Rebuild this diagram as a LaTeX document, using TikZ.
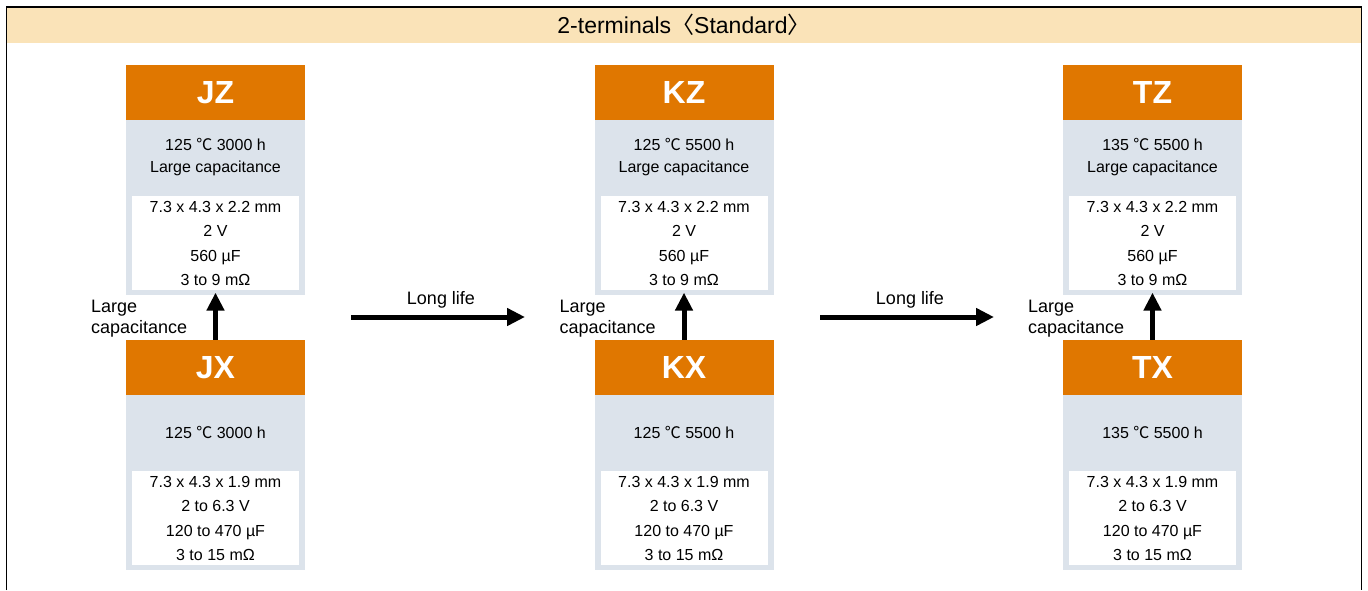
\documentclass[tikz,border=0pt]{standalone}
\usepackage{fontspec}
\setmainfont{Liberation Sans}
\newfontfamily\cjkfont{Noto Sans CJK JP}
\usetikzlibrary{positioning,arrows.meta}
\definecolor{hdrfill}{RGB}{250,227,184}
\definecolor{serorange}{RGB}{224,119,0}
\definecolor{serbody}{RGB}{220,227,235}
\newcommand{\degc}{{\cjkfont ℃}}
\tikzstyle{titlebox}=[fill=serorange,text=white,minimum width=179pt,minimum height=55pt,inner sep=0pt,font=\fontsize{32}{32}\selectfont\bfseries]
\tikzstyle{bodybox}=[fill=serbody,minimum width=179pt,minimum height=175pt,inner sep=0pt]
\tikzstyle{specbox}=[fill=white,minimum width=167pt,minimum height=94pt,inner sep=0pt,align=center,font=\fontsize{16}{24.3}\selectfont]
\tikzstyle{infotext}=[align=center,inner sep=0pt,font=\fontsize{16}{22}\selectfont]
\tikzstyle{sidelbl}=[align=left,inner sep=0pt,font=\fontsize{18}{21}\selectfont]
\tikzstyle{myarrow}=[line width=5pt,-{Triangle[width=17pt,length=18pt]}]

\begin{document}
\begin{tikzpicture}[x=1pt,y=-1pt]
		\useasboundingbox (0,0) rectangle (1368,590);

		% frame and header band
		\fill[hdrfill] (6.5,7) rectangle (1361.7,43);
		\draw[line width=1.5pt] (6.5,590) -- (6.5,7) -- (1361.7,7) -- (1361.7,590);
		\node[font=\fontsize{23}{23}\selectfont] (head) at (684,25) {2-terminals{\cjkfont 〈}Standard{\cjkfont 〉}};

		\foreach \i / \s / \temp / \life in {0/J/125/3000,1/K/125/5500,2/T/135/5500} {
			\pgfmathsetmacro\cx{215.5+468.5*\i}
			% upper series
			\node[titlebox] (\s Z) at (\cx,92.5) {\s Z};
			\node[bodybox,below=0pt of \s Z] (\s Z-body) {};
			\node[specbox,above=5pt of \s Z-body.south] (\s Z-spec) {7.3 x 4.3 x 2.2 mm\\2 V\\560 µF\\3 to 9 mΩ};
			\path (\s Z.south) -- (\s Z-spec.north) node[midway,infotext,yshift=1pt] (\s Z-info) {\temp{} \degc{} \life{} h\\Large capacitance};
			% lower series
			\node[titlebox] (\s X) at (\cx,367.5) {\s X};
			\node[bodybox,below=0pt of \s X] (\s X-body) {};
			\node[specbox,above=5pt of \s X-body.south] (\s X-spec) {7.3 x 4.3 x 1.9 mm\\2 to 6.3 V\\120 to 470 µF\\3 to 15 mΩ};
			\path (\s X.south) -- (\s X-spec.north) node[midway,infotext,yshift=1pt] (\s X-info) {\temp{} \degc{} \life{} h};

			\draw[myarrow] (\s X.north) -- ([yshift=3pt]\s Z-body.south);
			\node[sidelbl,anchor=west] (\s-lbl) at ([xshift=-35pt,yshift=21.5pt]\s X.north west) {Large\\capacitance};
		}

		% long life arrows
		\foreach \j / \x in {1/351,2/820} {
			\coordinate (life\j-a) at (\x,317);
			\coordinate (life\j-b) at ({\x+174},317);
			\draw[myarrow] (life\j-a) -- (life\j-b);
			\node[font=\fontsize{18}{18}\selectfont] (life\j-lbl) at ({\x+90},300) {Long life};
		}
	\end{tikzpicture}
\end{document}
